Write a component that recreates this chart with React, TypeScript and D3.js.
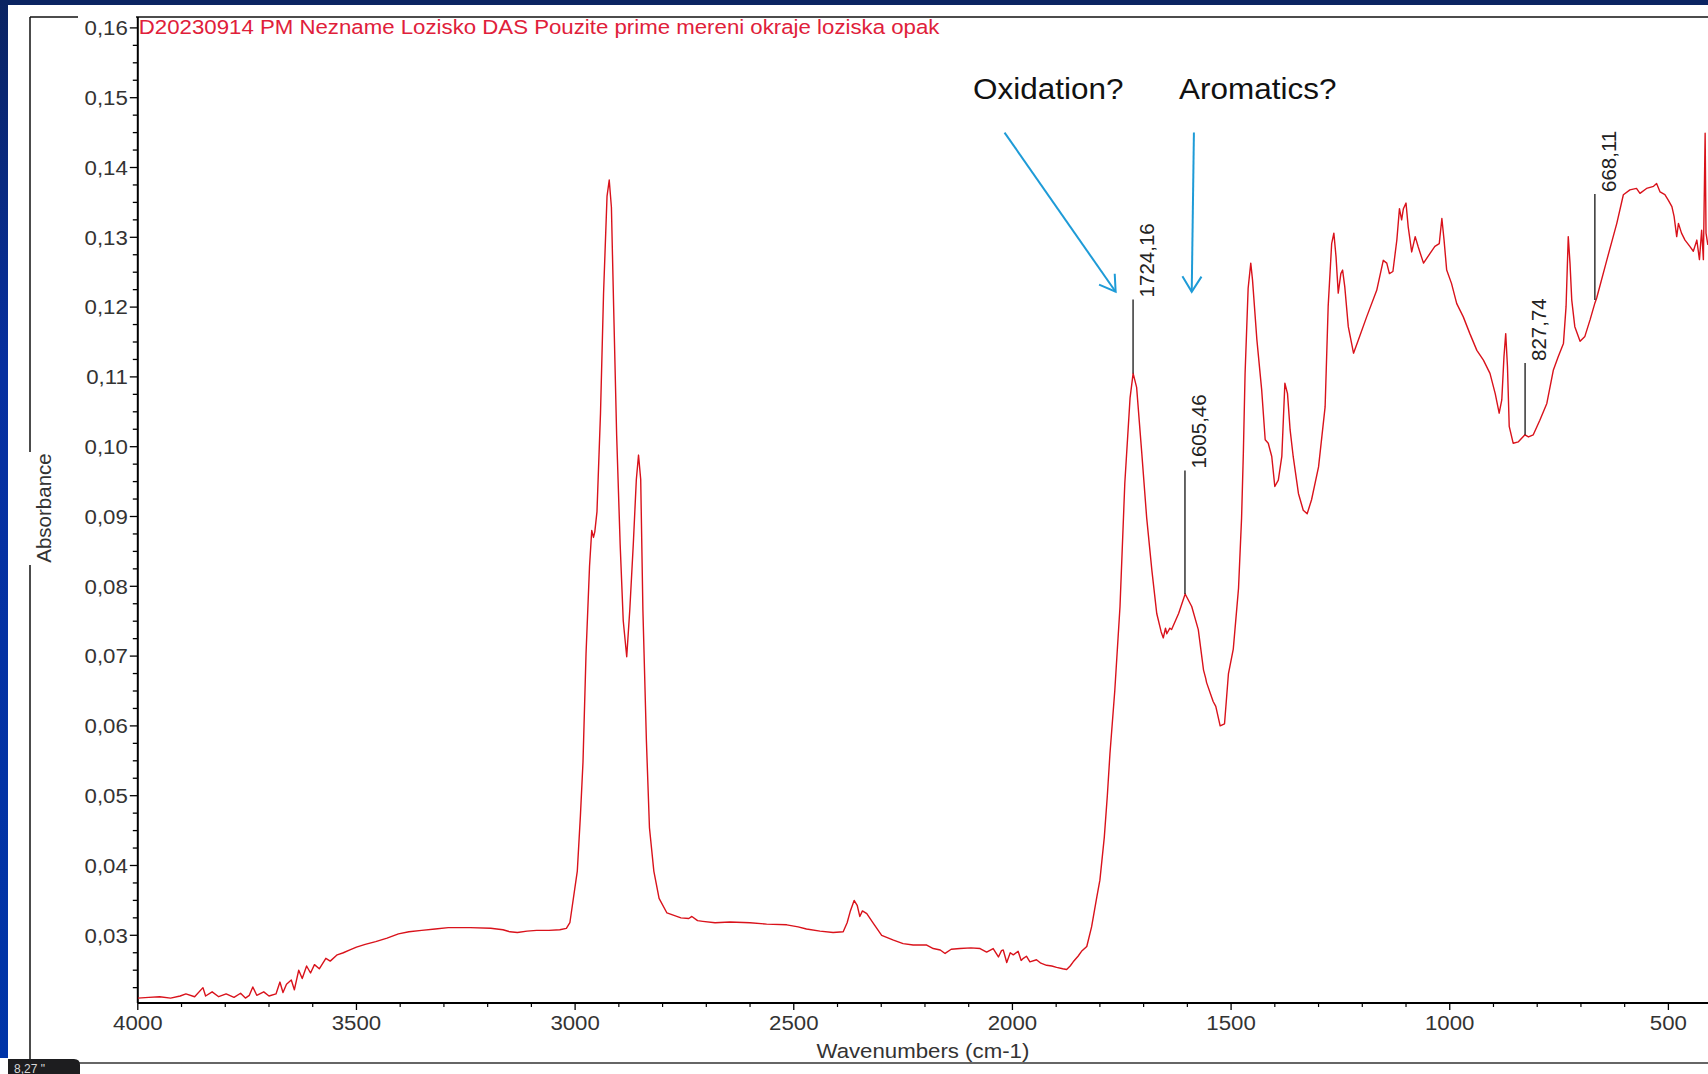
import React, { useEffect } from 'react';
import * as d3 from 'd3';

// FTIR spectrum: [wavenumber cm-1, absorbance]
const baselineHigh: [number, number][] = [
  [4000, 0.0210], [3975, 0.0211], [3950, 0.0212], [3925, 0.0210], [3903, 0.0213], [3890, 0.0216],
  [3870, 0.0212], [3851, 0.0225], [3845, 0.0213], [3830, 0.0219], [3815, 0.0212], [3798, 0.0216],
  [3780, 0.0211], [3765, 0.0217], [3754, 0.0210], [3745, 0.0214], [3737, 0.0226], [3728, 0.0214],
  [3712, 0.0219], [3700, 0.0213], [3684, 0.0216], [3675, 0.0233], [3668, 0.0218], [3660, 0.0230],
  [3649, 0.0236], [3642, 0.0222], [3632, 0.0250], [3624, 0.0238], [3614, 0.0256], [3605, 0.0246],
  [3596, 0.0258], [3585, 0.0252], [3570, 0.0267], [3560, 0.0263], [3544, 0.0272], [3530, 0.0275],
  [3515, 0.0279], [3500, 0.0283], [3480, 0.0287], [3456, 0.0291], [3430, 0.0296], [3404, 0.0302],
  [3380, 0.0305], [3351, 0.0307], [3320, 0.0309], [3290, 0.0311], [3272, 0.0311], [3240, 0.0311],
  [3193, 0.0310], [3165, 0.0308], [3149, 0.0305], [3132, 0.0304], [3110, 0.0306], [3088, 0.0307],
  [3060, 0.0307], [3035, 0.0308], [3020, 0.0310], [3012, 0.0318],
];

const chStretch: [number, number][] = [
  [2995, 0.0392], [2988, 0.0470], [2982, 0.0548], [2975, 0.0704], [2967, 0.0829], [2962, 0.0880],
  [2958, 0.0870], [2955, 0.0878], [2950, 0.0907], [2942, 0.1047], [2935, 0.1219], [2927, 0.1359],
  [2922, 0.1382], [2917, 0.1343], [2912, 0.1203], [2905, 0.1016], [2897, 0.0860], [2890, 0.0751],
  [2882, 0.0699], [2875, 0.0766], [2867, 0.0860], [2860, 0.0953], [2855, 0.0988], [2850, 0.0953],
  [2845, 0.0766], [2837, 0.0579], [2830, 0.0454], [2820, 0.0392], [2808, 0.0353], [2790, 0.0332],
  [2758, 0.0325], [2740, 0.0324], [2733, 0.0327], [2720, 0.0321], [2708, 0.0320],
];

const midRange: [number, number][] = [
  [2680, 0.0318], [2646, 0.0319], [2600, 0.0318], [2562, 0.0316], [2516, 0.0315], [2490, 0.0312],
  [2471, 0.0309], [2440, 0.0306], [2410, 0.0304], [2387, 0.0305], [2378, 0.0318], [2371, 0.0334],
  [2362, 0.0350], [2355, 0.0343], [2349, 0.0327], [2343, 0.0335], [2333, 0.0331], [2318, 0.0317],
  [2299, 0.0300], [2272, 0.0293], [2250, 0.0288], [2227, 0.0286], [2196, 0.0286], [2181, 0.0281],
  [2165, 0.0279], [2154, 0.0274], [2140, 0.0280], [2120, 0.0281], [2095, 0.0282], [2074, 0.0281],
  [2059, 0.0276], [2044, 0.0281], [2032, 0.0269], [2025, 0.0278], [2021, 0.0279], [2013, 0.0261],
  [2005, 0.0275], [1998, 0.0272], [1987, 0.0277], [1980, 0.0264], [1975, 0.0267], [1968, 0.0270],
  [1960, 0.0262], [1945, 0.0265], [1935, 0.0260], [1922, 0.0257], [1910, 0.0256], [1899, 0.0254],
  [1885, 0.0252], [1876, 0.0251], [1868, 0.0256], [1861, 0.0262], [1850, 0.0270], [1842, 0.0277],
  [1830, 0.0284], [1819, 0.0312], [1807, 0.0355],
];

const carbonylRegion: [number, number][] = [
  [1800, 0.0379], [1790, 0.0440], [1783, 0.0500], [1777, 0.0560], [1766, 0.0650], [1754, 0.0771],
  [1743, 0.0948], [1731, 0.1070], [1724, 0.1105], [1716, 0.1085], [1704, 0.0989], [1693, 0.0898],
  [1681, 0.0822], [1670, 0.0761], [1660, 0.0735], [1655, 0.0726], [1650, 0.0740], [1647, 0.0732],
  [1640, 0.0740], [1636, 0.0738], [1620, 0.0761], [1605, 0.0789], [1590, 0.0771], [1575, 0.0738],
  [1563, 0.0680], [1558, 0.0668], [1556, 0.0662], [1541, 0.0635], [1535, 0.0628], [1525, 0.0600],
  [1515, 0.0603], [1506, 0.0675], [1495, 0.0710], [1483, 0.0797], [1476, 0.0898], [1472, 0.0990],
  [1468, 0.1105], [1461, 0.1227], [1455, 0.1263], [1451, 0.1239], [1441, 0.1153], [1430, 0.1081],
  [1422, 0.1010], [1415, 0.1005], [1407, 0.0986],
];

const fingerprint: [number, number][] = [
  [1400, 0.0943], [1392, 0.0952], [1384, 0.0986], [1377, 0.1091], [1371, 0.1076], [1365, 0.1024],
  [1358, 0.0986], [1346, 0.0933], [1335, 0.0909], [1326, 0.0904], [1316, 0.0924], [1300, 0.0971],
  [1285, 0.1057], [1278, 0.1201], [1270, 0.1291], [1265, 0.1306], [1260, 0.1272], [1255, 0.1220],
  [1249, 0.1248], [1245, 0.1253], [1240, 0.1229], [1232, 0.1172], [1220, 0.1134], [1209, 0.1153],
  [1190, 0.1186], [1167, 0.1224], [1152, 0.1267], [1144, 0.1263], [1138, 0.1248], [1130, 0.1251],
  [1121, 0.1296], [1115, 0.1341], [1110, 0.1325], [1106, 0.1341], [1100, 0.1349], [1095, 0.1315],
  [1087, 0.1279], [1079, 0.1301], [1072, 0.1286], [1060, 0.1263], [1045, 0.1277], [1034, 0.1287],
  [1024, 0.1291], [1018, 0.1327], [1013, 0.1296], [1007, 0.1253], [996, 0.1234], [984, 0.1205],
  [969, 0.1186], [954, 0.1162], [938, 0.1138], [923, 0.1124], [908, 0.1105], [896, 0.1076],
  [887, 0.1048], [881, 0.1067], [876, 0.1129], [872, 0.1162], [868, 0.1115], [864, 0.1029],
  [855, 0.1005], [843, 0.1007], [828, 0.1017], [820, 0.1014], [809, 0.1017], [794, 0.1038],
  [778, 0.1062], [763, 0.1110], [752, 0.1129], [740, 0.1148], [734, 0.1201], [729, 0.1301],
  [725, 0.1263], [721, 0.1210], [714, 0.1172], [702, 0.1151], [691, 0.1158], [679, 0.1182],
  [668, 0.1206], [664, 0.1213], [641, 0.1267], [618, 0.1320], [603, 0.1361], [588, 0.1368],
  [573, 0.1370], [565, 0.1363], [550, 0.1370], [534, 0.1373], [527, 0.1377], [519, 0.1365],
  [508, 0.1361], [500, 0.1353], [492, 0.1344], [487, 0.1330], [481, 0.1301], [477, 0.1320],
  [470, 0.1306], [462, 0.1296], [451, 0.1287], [443, 0.1280], [435, 0.1296], [429, 0.1268],
  [424, 0.1310], [420, 0.1268], [416, 0.1449], [414, 0.1306], [410, 0.1290], [405, 0.1300],
];

// peak picks
const peakWn = [1724.16, 1605.46, 827.74, 668.11];
const peakLabels = ['1724,16', '1605,46', '827,74', '668,11'];
const peakAbs = [0.1105, 0.0789, 0.1017, 0.1210];
const peakLabelAbs = [0.1211, 0.0966, 0.1120, 0.1362];

// annotations added on the slide
const noteTexts = ['Oxidation?', 'Aromatics?'];
const noteWn = [1918, 1439];
const arrowFromWn = [2018, 1585];
const arrowToWn = [1764, 1590];
const arrowFromAbs = 0.1450;
const arrowToAbs = 0.1222;
const noteAbs = 0.1498;

const xTicks = [4000, 3500, 3000, 2500, 2000, 1500, 1000, 500];
const yTicks = [0.03, 0.04, 0.05, 0.06, 0.07, 0.08, 0.09, 0.10, 0.11, 0.12, 0.13, 0.14, 0.15, 0.16];

const title = 'D20230914 PM Nezname Lozisko DAS Pouzite prime mereni okraje loziska opak';

const W = 1708;
const H = 1074;
const FONT = '"Liberation Sans", Arial, sans-serif';
const FS = 20.5;
const SX = 1.085; // screenshot is a bit wider than tall

const App: React.FC = () => {
  useEffect(() => {
    document.body.style.margin = '0';
    document.body.style.overflow = 'hidden';
  }, []);

  const left = 137.8;
  const top = 17;
  const bottom = 1003;

  const x = d3.scaleLinear().domain([4000, 500]).range([left, 1668.4]);
  const y = d3.scaleLinear().domain([0.0203, 0.16]).range([bottom, 27.9]);

  const spectrum = [...baselineHigh, ...chStretch, ...midRange, ...carbonylRegion, ...fingerprint];
  const line = d3.line<[number, number]>()
    .x(d => x(d[0]))
    .y(d => y(d[1]));

  const xMinor = d3.range(4000, 405, -100).filter(v => v % 500 !== 0);
  const yMinor = d3.range(0.0225, 0.1601, 0.0025).filter(v => Math.abs(Math.round(v * 100) - v * 100) > 0.01);
  const fmt = (v: number) => v.toFixed(2).replace('.', ',');

  const blue = '#1e9bd7';
  const arrowHead = (x1: number, y1: number, x2: number, y2: number) => {
    const a = Math.atan2(y2 - y1, x2 - x1);
    const L = 18;
    const s = (32 * Math.PI) / 180;
    const p1 = [x2 - L * Math.cos(a - s), y2 - L * Math.sin(a - s)];
    const p2 = [x2 - L * Math.cos(a + s), y2 - L * Math.sin(a + s)];
    return `M${p1[0]},${p1[1]}L${x2},${y2}L${p2[0]},${p2[1]}`;
  };

  return (
    <svg width={W} height={H} style={{ position: 'absolute', left: 0, top: 0, background: '#fff' }} fontFamily={FONT}>
      <defs>
        <linearGradient id="stripe" x1="0" y1="0" x2="0" y2="1">
          <stop offset="0" stopColor="#0b2462" />
          <stop offset="0.35" stopColor="#0730a0" />
          <stop offset="1" stopColor="#0035a8" />
        </linearGradient>
        <clipPath id="plot">
          <rect x={left} y={top} width={W - left} height={bottom - top} />
        </clipPath>
      </defs>

      {/* slide background bits */}
      <rect x={0} y={0} width={W} height={5} fill="#0b2462" />
      <rect x={0} y={0} width={8} height={1058} fill="url(#stripe)" />

      {/* outer frame */}
      <line x1={30} x2={78} y1={top} y2={top} stroke="#111" strokeWidth={1.5} />
      <line x1={136} x2={W} y1={top} y2={top} stroke="#111" strokeWidth={1.5} />
      <line x1={30} x2={30} y1={top} y2={452} stroke="#111" strokeWidth={1.5} />
      <line x1={30} x2={30} y1={565} y2={1063} stroke="#111" strokeWidth={1.5} />
      <line x1={30} x2={W} y1={1063} y2={1063} stroke="#666" strokeWidth={2} />

      {/* title */}
      <g transform={`translate(${left + 1},34) scale(${SX},1)`}>
        <text fontSize={FS} fill="#e0203a">{title}</text>
      </g>

      {/* y axis */}
      <line x1={left} x2={left} y1={top} y2={bottom} stroke="#000" strokeWidth={2} />
      {yTicks.map(t => (
        <g key={t}>
          <line x1={left - 8} x2={left} y1={y(t)} y2={y(t)} stroke="#000" strokeWidth={1.3} />
          <g transform={`translate(${left - 10},${y(t) + 7.3}) scale(${SX},1)`}>
            <text fontSize={FS} fill="#333" textAnchor="end">{fmt(t)}</text>
          </g>
        </g>
      ))}
      {yMinor.map(t => (
        <line key={t} x1={left - 5} x2={left} y1={y(t)} y2={y(t)} stroke="#000" strokeWidth={1.3} />
      ))}
      <text transform="translate(51,508) rotate(-90)" fontSize={FS} fill="#333" textAnchor="middle">Absorbance</text>

      {/* x axis */}
      <line x1={left} x2={W} y1={bottom} y2={bottom} stroke="#000" strokeWidth={2} />
      {xTicks.map(t => (
        <g key={t}>
          <line x1={x(t)} x2={x(t)} y1={bottom} y2={bottom + 7} stroke="#000" strokeWidth={1.3} />
          <g transform={`translate(${x(t)},1030) scale(${SX},1)`}>
            <text fontSize={FS} fill="#333" textAnchor="middle">{t}</text>
          </g>
        </g>
      ))}
      {xMinor.map(t => (
        <line key={t} x1={x(t)} x2={x(t)} y1={bottom} y2={bottom + 4} stroke="#000" strokeWidth={1.2} />
      ))}
      <g transform={`translate(${(left + W) / 2},1058) scale(${SX},1)`}>
        <text fontSize={FS} fill="#333" textAnchor="middle">Wavenumbers (cm-1)</text>
      </g>

      {/* spectrum */}
      <g clipPath="url(#plot)">
        <path d={line(spectrum) || ''} fill="none" stroke="#d9121b" strokeWidth={1.4} strokeLinejoin="round" />
      </g>

      {/* peak picks */}
      {peakWn.map((wn, i) => (
        <g key={wn}>
          <line x1={x(wn)} x2={x(wn)} y1={y(peakAbs[i])} y2={y(peakLabelAbs[i])} stroke="#000" strokeWidth={1.2} />
          <text
            transform={`translate(${x(wn) + 21},${y(peakLabelAbs[i]) - 2}) rotate(-90)`}
            fontSize={FS}
            fill="#222"
          >
            {peakLabels[i]}
          </text>
        </g>
      ))}

      {/* slide annotations */}
      {noteTexts.map((t, i) => {
        const x1 = x(arrowFromWn[i]);
        const y1 = y(arrowFromAbs);
        const x2 = x(arrowToWn[i]);
        const y2 = y(arrowToAbs);
        return (
          <g key={t}>
            <g transform={`translate(${x(noteWn[i])},${y(noteAbs)}) scale(${SX},1)`}>
              <text fontSize={29} fill="#111" textAnchor="middle">{t}</text>
            </g>
            <line x1={x1} y1={y1} x2={x2} y2={y2} stroke={blue} strokeWidth={2} />
            <path d={arrowHead(x1, y1, x2, y2)} fill="none" stroke={blue} strokeWidth={2} />
          </g>
        );
      })}

      {/* screen recorder badge at the corner */}
      <path d="M8,1059 H74 Q80,1059 80,1065 V1074 H8 Z" fill="#1d1d1f" />
      <text x={14} y={1072.5} fontSize={12} fill="#d8d8d8" fontFamily={FONT}>8,27 "</text>
    </svg>
  );
};

export default App;
